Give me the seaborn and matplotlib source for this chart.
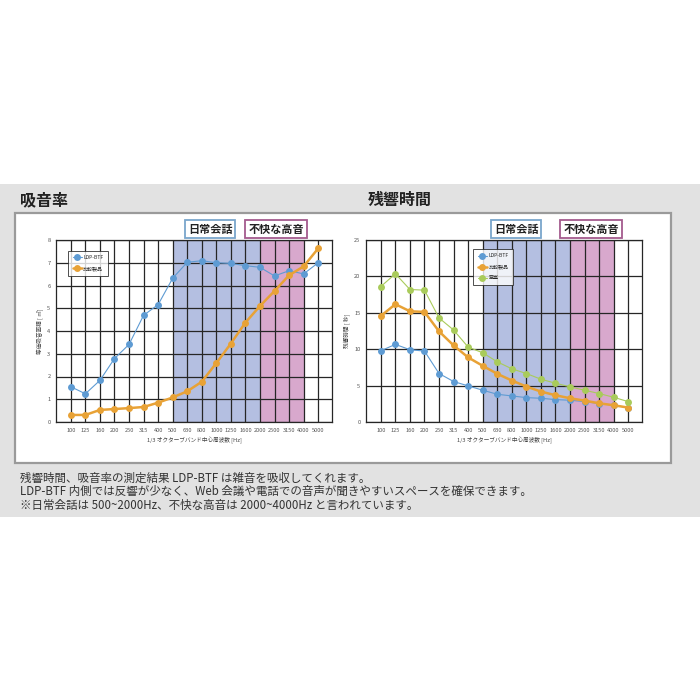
import matplotlib
matplotlib.use("Agg")
import matplotlib.pyplot as plt
import seaborn as sns
import pandas as pd
import numpy as np
from matplotlib.patches import Rectangle

freqs = ["100", "125", "160", "200", "250", "315", "400", "500", "630", "800",
         "1000", "1250", "1600", "2000", "2500", "3150", "4000", "5000"]

abs_ldp = [1.55, 1.24, 1.83, 2.79, 3.41, 4.69, 5.16, 6.32, 7.02, 7.09,
           7.00, 6.97, 6.87, 6.80, 6.42, 6.65, 6.51, 7.00]
abs_cmp = [0.31, 0.31, 0.53, 0.57, 0.61, 0.66, 0.85, 1.08, 1.35, 1.77,
           2.59, 3.45, 4.37, 5.10, 5.76, 6.45, 6.84, 7.63]

rt_ldp = [9.79, 10.66, 9.93, 9.74, 6.66, 5.56, 4.96, 4.37, 3.81, 3.58,
          3.35, 3.26, 3.08, 2.99, 2.80, 2.53, 2.30, 1.98]
rt_cmp = [14.57, 16.18, 15.21, 15.12, 12.45, 10.52, 8.87, 7.72, 6.62, 5.70,
          4.87, 4.18, 3.68, 3.26, 2.94, 2.57, 2.30, 1.98]
rt_empty = [18.61, 20.36, 18.20, 18.11, 14.29, 12.64, 10.29, 9.51, 8.27, 7.31,
            6.66, 5.88, 5.33, 4.83, 4.37, 3.91, 3.40, 2.80]

series_names = ["LDP-BTF", "比較製品", "空室"]
left_title = "吸音率"
right_title = "残響時間"
left_ylabel = "等価吸音面積 [ ㎡]"
right_ylabel = "残響時間 [ 秒]"
xlabel = "1/3 オクターブバンド中心周波数 [Hz]"
band1_label = "日常会話"
band2_label = "不快な高音"
band1 = ("500", "2000")
band2 = ("2000", "4000")
notes = [
    "残響時間、吸音率の測定結果 LDP-BTF は雑音を吸収してくれます。",
    "LDP-BTF 内側では反響が少なく、Web 会議や電話での音声が聞きやすいスペースを確保できます。",
    "※日常会話は 500~2000Hz、不快な高音は 2000~4000Hz と言われています。",
]

sns.set_theme(style="white")
plt.rcParams['font.family'] = ['Noto Sans CJK JP', 'DejaVu Sans']

colors = {"LDP-BTF": "#5e9bd3", "比較製品": "#e8a236", "空室": "#a9cb5b"}
widths = {"LDP-BTF": 0.8, "比較製品": 1.8, "空室": 0.8}
blue_fill = "#b4bfe1"
pink_fill = "#d8a8cd"

fig = plt.figure(figsize=(7, 7), dpi=100)
fig.patch.set_facecolor("white")

# gray panel
fig.patches.append(Rectangle((0, 1 - 517 / 700), 1, (517 - 184) / 700,
                             transform=fig.transFigure, facecolor="#e2e2e2",
                             edgecolor="none", zorder=-3))
# white box
fig.patches.append(Rectangle((15 / 700, 1 - 463 / 700), (671 - 15) / 700, (463 - 213) / 700,
                             transform=fig.transFigure, facecolor="white",
                             edgecolor="#9a9a9a", linewidth=1.6, zorder=-2))

fig.text(20 / 700, 1 - 200 / 700, left_title, fontsize=11.5, fontweight="bold",
         va="center", ha="left", color="#222222")
fig.text(368 / 700, 1 - 200 / 700, right_title, fontsize=11.5, fontweight="bold",
         va="center", ha="left", color="#222222")

for i, line in enumerate(notes):
    fig.text(20 / 700, 1 - (478 + i * 13.5) / 700, line, fontsize=8.3,
             va="center", ha="left", color="#333333")

x_idx = np.arange(len(freqs))


def make_ax(rect, data, ymax, yticks, ylabel):
    ax = fig.add_axes(rect)
    ax.set_zorder(1)
    ax.set_facecolor("white")
    i1a, i1b = freqs.index(band1[0]), freqs.index(band1[1])
    i2a, i2b = freqs.index(band2[0]), freqs.index(band2[1])
    ax.axvspan(i1a, i1b, color=blue_fill, zorder=0.2, lw=0)
    ax.axvspan(i2a, i2b, color=pink_fill, zorder=0.2, lw=0)
    rows = []
    for name, vals in data:
        for xi, v in zip(x_idx, vals):
            rows.append({"x": xi, "y": v, "series": name})
    df = pd.DataFrame(rows)
    for name, _ in data:
        sub = df[df.series == name]
        sns.lineplot(data=sub, x="x", y="y", ax=ax, color=colors[name],
                     linewidth=widths[name], marker="o", markersize=5,
                     markeredgewidth=0, label=name, zorder=3)
    ax.set_xlim(-1.02, 17.95)
    ax.set_ylim(0, ymax)
    ax.set_xticks(x_idx)
    ax.set_xticklabels(freqs)
    ax.set_yticks(yticks)
    ax.grid(True, color="#262626", linewidth=0.9)
    ax.set_axisbelow(True)
    ax.tick_params(axis="both", labelsize=4.1, colors="#555555", length=0, pad=4)
    for s in ax.spines.values():
        s.set_color("#262626")
        s.set_linewidth(0.9)
    ax.set_xlabel(xlabel, fontsize=4.1, color="#444444", labelpad=3)
    ax.set_ylabel(ylabel, fontsize=4.1, color="#444444", labelpad=3)
    return ax


axL = make_ax([56 / 700, 1 - 422 / 700, 276 / 700, 182 / 700],
              [("LDP-BTF", abs_ldp), ("比較製品", abs_cmp)],
              8, range(0, 9), left_ylabel)
axR = make_ax([366 / 700, 1 - 422 / 700, 276 / 700, 182 / 700],
              [("LDP-BTF", rt_ldp), ("比較製品", rt_cmp), ("空室", rt_empty)],
              25, range(0, 26, 5), right_ylabel)

for ax, loc in [(axL, (0.035, 0.79)), (axR, (0.38, 0.74))]:
    leg = ax.legend(loc="lower left", bbox_to_anchor=loc, fontsize=3.6,
                    frameon=True, fancybox=False, edgecolor="#222222",
                    borderpad=0.9, labelspacing=1.2, handlelength=1.8,
                    handletextpad=0.3)
    leg.get_frame().set_linewidth(0.7)
    leg.set_zorder(5)


def label_box(xc, text, edge):
    fig.text(xc / 700, 1 - 229 / 700, text, fontsize=8, fontweight="bold",
             ha="center", va="center", color="#222222",
             bbox=dict(boxstyle="square,pad=0.25", facecolor="white",
                       edgecolor=edge, linewidth=1.3))


label_box(210, band1_label, "#7aa6cc")
label_box(276, band2_label, "#a45b8e")
label_box(516, band1_label, "#7aa6cc")
label_box(591, band2_label, "#a45b8e")

fig.savefig("out.png", dpi=100, facecolor="white")
